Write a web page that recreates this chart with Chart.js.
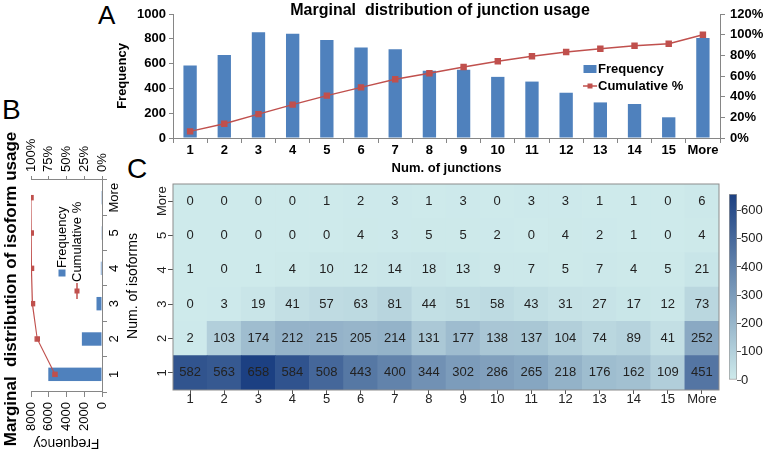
<!DOCTYPE html>
<html lang="en">
<head>
<meta charset="UTF-8">
<title>Junction and isoform usage</title>
<script src="https://cdn.jsdelivr.net/npm/chart.js@4.4.0/dist/chart.umd.min.js"></script>
<style>
  body { margin: 0; background: #fff; width: 768px; height: 450px; position: relative; overflow: hidden;
         font-family: "Liberation Sans", Arial, sans-serif; }
  .box { position: absolute; }
  .tag { position: absolute; font-size: 28px; line-height: 1; color: #000; }
  #boxB { transform: rotate(-90deg); }
</style>
</head>
<body>
<div class="tag" style="left:98px;top:2px;font-size:26px">A</div>
<div class="tag" style="left:2px;top:96px">B</div>
<div class="tag" style="left:127px;top:155px">C</div>

<div class="box" style="left:112px;top:0;width:656px;height:180px"><canvas id="chartA"></canvas></div>
<!-- panel B is an ordinary chart turned on its side -->
<div class="box" id="boxB" style="left:-92px;top:218px;width:326px;height:142px"><canvas id="chartB"></canvas></div>
<div class="box" style="left:140px;top:178px;width:590px;height:240px"><canvas id="chartC"></canvas></div>
<div class="box" style="left:722px;top:180px;width:46px;height:215px"><canvas id="scaleC"></canvas></div>

<script>
// ---- data ----
const junctionLabels = ['1', '2', '3', '4', '5', '6', '7', '8', '9', '10', '11', '12', '13', '14', '15', 'More'];
const junctionFreq = [585, 669, 852, 841, 791, 729, 715, 543, 551, 493, 455, 365, 287, 274, 167, 807];
const junctionCumPct = [6.4, 13.7, 23.1, 32.3, 41.0, 49.0, 56.8, 62.7, 68.8, 74.2, 79.2, 83.2, 86.3, 89.3, 91.2, 100];
const freqTicksA = [0, 200, 400, 600, 800, 1000];
const pctTicksA = [0, 20, 40, 60, 80, 100, 120];

const isoformLabels = ['1', '2', '3', '4', '5', 'More'];
const isoformFreq = [6051, 2268, 620, 131, 30, 24];
const isoformCumPct = [66.3, 91.2, 98.0, 99.4, 99.7, 100];
const freqTicksB = [0, 2000, 4000, 6000, 8000];
const pctTicksB = [0, 25, 50, 75, 100];

// heatmap rows: number of isoforms, columns: number of junctions
const iso1 = [582, 563, 658, 584, 508, 443, 400, 344, 302, 286, 265, 218, 176, 162, 109, 451];
const iso2 = [2, 103, 174, 212, 215, 205, 214, 131, 177, 138, 137, 104, 74, 89, 41, 252];
const iso3 = [0, 3, 19, 41, 57, 63, 81, 44, 51, 58, 43, 31, 27, 17, 12, 73];
const iso4 = [1, 0, 1, 4, 10, 12, 14, 18, 13, 9, 7, 5, 7, 4, 5, 21];
const iso5 = [0, 0, 0, 0, 0, 4, 3, 5, 5, 2, 0, 4, 2, 1, 0, 4];
const isoMore = [0, 0, 0, 0, 1, 2, 3, 1, 3, 0, 3, 3, 1, 1, 0, 6];
const heatRows = [iso1, iso2, iso3, iso4, iso5, isoMore];
const colorMax = 658;
const colorTicks = [0, 100, 200, 300, 400, 500, 600];

// ---- style ----
const FONT = '"Liberation Sans", Arial, sans-serif';
Chart.defaults.font.family = FONT;
Chart.defaults.color = '#000';
const blue = '#4f81bd', red = '#c0504d', axisGrey = '#868686';
const lightRGB = [206, 234, 235], darkRGB = [28, 64, 130];

function rgb(c) { return 'rgb(' + c.map(Math.round).join(',') + ')'; }
function cellColor(v) {
    const t = Math.min(v / colorMax, 1);
    return rgb(lightRGB.map((l, i) => l + (darkRGB[i] - l) * t));
}
function fixTicks(values) {
    return s => { s.ticks = values.map(v => ({ value: v })); };
}
const plain = v => String(v);
const pct = v => v + '%';

// legend drawn inside the plot area
const boxLegend = {
    id: 'boxLegend',
    afterDraw(chart, args, opts) {
        const { ctx, chartArea } = chart;
        ctx.save();
        ctx.font = opts.font;
        ctx.textBaseline = 'middle';
        chart.data.datasets.forEach((ds, i) => {
            const it = opts.items[i];
            const x = chartArea.left + it.x, y = chartArea.top + it.y;
            if (ds.type === 'line') {
                ctx.strokeStyle = ds.borderColor;
                ctx.lineWidth = 1.5;
                ctx.beginPath(); ctx.moveTo(x, y); ctx.lineTo(x + it.sym, y); ctx.stroke();
                ctx.fillStyle = ds.borderColor;
                ctx.fillRect(x + it.sym / 2 - 2.5, y - 2.5, 5, 5);
            } else {
                ctx.fillStyle = ds.backgroundColor;
                ctx.fillRect(x + (it.sym - it.w) / 2, y - it.h / 2, it.w, it.h);
            }
            ctx.fillStyle = '#000';
            ctx.fillText(ds.label, x + it.sym + 1, y);
        });
        ctx.restore();
    }
};

// ---- A: junction usage ----
const boldA = { size: 13, weight: 'bold' };
new Chart(document.getElementById('chartA'), {
    type: 'bar',
    data: {
        labels: junctionLabels,
        datasets: [
            { label: 'Frequency', data: junctionFreq, backgroundColor: blue, yAxisID: 'y', order: 2,
              categoryPercentage: 1, barPercentage: 0.39 },
            { type: 'line', label: 'Cumulative %', data: junctionCumPct, yAxisID: 'y1', order: 1,
              borderColor: red, backgroundColor: red, borderWidth: 1.5, pointStyle: 'rect', pointRadius: 3.5 }
        ]
    },
    options: {
        responsive: true, maintainAspectRatio: false, animation: false,
        plugins: {
            legend: { display: false }, tooltip: { enabled: false },
            title: { display: true, text: 'Marginal  distribution of junction usage', color: '#000',
                     font: { size: 16, weight: 'bold' }, padding: { top: 1, bottom: -6.2 } },
            boxLegend: { font: 'bold 13px ' + FONT, items: [
                { x: 410, y: 55, sym: 14, w: 13, h: 8 },
                { x: 410, y: 72, sym: 14 } ] }
        },
        scales: {
            x: {
                grid: { drawOnChartArea: false, tickLength: 5, color: axisGrey, offset: true },
                border: { color: axisGrey },
                ticks: { font: boldA, padding: 0, maxRotation: 0, autoSkip: false },
                title: { display: true, text: 'Num. of junctions', font: boldA, padding: { top: 0, bottom: 4 } },
                afterFit: s => { s.height = 42; }
            },
            y: {
                position: 'left', min: 0, max: 1000, afterBuildTicks: fixTicks(freqTicksA),
                grid: { drawOnChartArea: false, tickLength: 4, color: axisGrey },
                border: { color: axisGrey },
                ticks: { font: boldA, padding: 3, autoSkip: false, callback: plain },
                title: { display: true, text: 'Frequency', font: boldA, padding: { top: 3, bottom: 0 } },
                afterFit: s => { s.width = 61; }
            },
            y1: {
                position: 'right', min: 0, max: 120, afterBuildTicks: fixTicks(pctTicksA),
                grid: { drawOnChartArea: false, tickLength: 5, color: axisGrey },
                border: { color: axisGrey },
                ticks: { font: boldA, padding: 5, autoSkip: false, callback: pct },
                afterFit: s => { s.width = 48; }
            }
        }
    },
    plugins: [boxLegend]
});

// ---- B: isoform usage (drawn upright, rotated by CSS) ----
const regB = { size: 13 };
new Chart(document.getElementById('chartB'), {
    type: 'bar',
    data: {
        labels: isoformLabels,
        datasets: [
            { label: 'Frequency', data: isoformFreq, backgroundColor: blue, yAxisID: 'y', order: 2,
              categoryPercentage: 1, barPercentage: 0.38 },
            { type: 'line', label: 'Cumulative %', data: isoformCumPct, yAxisID: 'y1', order: 1,
              borderColor: red, backgroundColor: red, borderWidth: 1.2, pointStyle: 'rect', pointRadius: 3 }
        ]
    },
    options: {
        responsive: true, maintainAspectRatio: false, animation: false,
        plugins: {
            legend: { display: false }, tooltip: { enabled: false },
            title: { display: true, text: 'Marginal  distribution of isoform usage', color: '#000',
                     font: { size: 17, weight: 'bold' }, padding: { top: 1, bottom: 9.6 } },
            boxLegend: { font: '13px ' + FONT, items: [
                { x: 115, y: 31, sym: 8, w: 7, h: 7 },
                { x: 93, y: 46, sym: 16 } ] }
        },
        scales: {
            x: {
                grid: { drawOnChartArea: false, tickLength: 5, color: axisGrey, offset: true },
                border: { color: axisGrey },
                ticks: { font: regB, padding: 0, maxRotation: 0, autoSkip: false },
                title: { display: true, text: 'Num. of isoforms', font: { size: 14 }, padding: { top: 0, bottom: 0 } },
                afterFit: s => { s.height = 40; }
            },
            y: {
                position: 'left', min: 0, max: 8000, afterBuildTicks: fixTicks(freqTicksB),
                grid: { drawOnChartArea: false, tickLength: 5, color: axisGrey },
                border: { color: axisGrey },
                ticks: { font: regB, padding: 5, autoSkip: false, callback: plain },
                title: { display: true, text: 'Frequency', font: { size: 14 }, padding: { top: 0.6, bottom: 0 } },
                afterFit: s => { s.width = 60; }
            },
            y1: {
                position: 'right', min: 0, max: 100, afterBuildTicks: fixTicks(pctTicksB),
                grid: { drawOnChartArea: false, tickLength: 4, color: axisGrey },
                border: { color: axisGrey },
                ticks: { font: regB, padding: 4, autoSkip: false, callback: pct },
                afterFit: s => { s.width = 54; }
            }
        }
    },
    plugins: [boxLegend]
});

// ---- C: heatmap as stacked unit bars ----
const cellText = {
    id: 'cellText',
    afterDatasetsDraw(chart) {
        const ctx = chart.ctx;
        ctx.save();
        ctx.font = '13px ' + FONT;
        ctx.fillStyle = '#222';
        ctx.textAlign = 'center';
        ctx.textBaseline = 'middle';
        chart.data.datasets.forEach((ds, di) => {
            chart.getDatasetMeta(di).data.forEach((bar, j) => {
                ctx.fillText(String(ds.counts[j]), bar.x, (bar.y + bar.base) / 2);
            });
        });
        ctx.restore();
    }
};
const frame = {
    id: 'frame',
    afterDraw(chart) {
        const { ctx, chartArea: a } = chart;
        ctx.save();
        ctx.strokeStyle = '#8c8c8c';
        ctx.lineWidth = 1;
        ctx.strokeRect(a.left, a.top, a.right - a.left, a.bottom - a.top);
        ctx.restore();
    }
};

const tickGrey = '#555';
new Chart(document.getElementById('chartC'), {
    type: 'bar',
    data: {
        labels: junctionLabels,
        datasets: heatRows.map((row, ri) => ({
            label: isoformLabels[ri],
            counts: row,
            data: row.map(() => 1),
            backgroundColor: row.map(cellColor),
            borderWidth: 0,
            categoryPercentage: 1, barPercentage: 1
        }))
    },
    options: {
        responsive: true, maintainAspectRatio: false, animation: false,
        layout: { padding: { top: 6, right: 11 } },
        plugins: { legend: { display: false }, tooltip: { enabled: false } },
        scales: {
            x: {
                stacked: true,
                grid: { drawOnChartArea: false, tickLength: 4, color: tickGrey, offset: false },
                border: { display: false },
                ticks: { font: { size: 13 }, color: '#222', padding: -2, maxRotation: 0, autoSkip: false },
                afterFit: s => { s.height = 28; }
            },
            y: {
                stacked: true, min: 0, max: heatRows.length,
                afterBuildTicks: s => { s.ticks = isoformLabels.map((_, i) => ({ value: i + 0.5 })); },
                grid: { drawOnChartArea: false, tickLength: 5, color: tickGrey },
                border: { display: false },
                ticks: { font: { size: 13 }, color: '#222', minRotation: 90, maxRotation: 90, autoSkip: false,
                         crossAlign: 'center', padding: -9, callback: v => isoformLabels[Math.floor(v)] },
                afterFit: s => { s.width = 33; }
            }
        }
    },
    plugins: [cellText, frame]
});

// colour key
new Chart(document.getElementById('scaleC'), {
    type: 'bar',
    data: {
        labels: [''],
        datasets: [{
            data: [[0, colorMax]],
            backgroundColor: c => {
                const chart = c.chart;
                if (!chart.chartArea) return null;
                const y = chart.scales.y;
                const g = chart.ctx.createLinearGradient(0, y.getPixelForValue(0), 0, y.getPixelForValue(colorMax));
                g.addColorStop(0, rgb(lightRGB));
                g.addColorStop(1, rgb(darkRGB));
                return g;
            },
            borderColor: '#9a9a9a', borderWidth: 1, borderSkipped: false,
            categoryPercentage: 1, barPercentage: 1
        }]
    },
    options: {
        responsive: true, maintainAspectRatio: false, animation: false,
        layout: { padding: { left: 7, top: 14, bottom: 15 } },
        plugins: { legend: { display: false }, tooltip: { enabled: false } },
        scales: {
            x: { display: false },
            y: {
                position: 'right', min: 0, max: colorMax, afterBuildTicks: fixTicks(colorTicks),
                grid: { drawOnChartArea: false, tickLength: 4, color: tickGrey },
                border: { display: false },
                ticks: { font: { size: 13 }, color: '#222', padding: 0, autoSkip: false, callback: plain },
                afterFit: s => { s.width = 31; }
            }
        }
    }
});
</script>
</body>
</html>
